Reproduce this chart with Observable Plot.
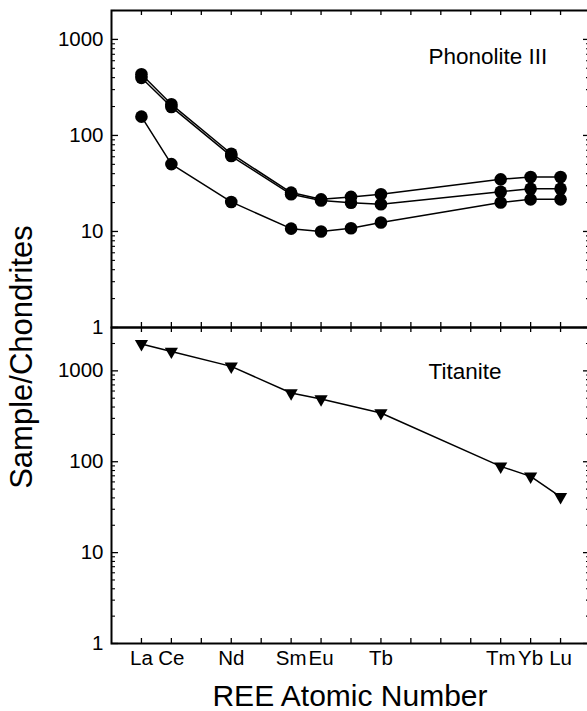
<!DOCTYPE html>
<html><head><meta charset="utf-8">
<script src="https://cdn.jsdelivr.net/npm/d3@7"></script>
<script src="https://cdn.jsdelivr.net/npm/@observablehq/plot@0.6"></script>
<style>
html,body{margin:0;padding:0;background:#fff;overflow:hidden;}
#wrap{position:relative;width:587px;height:711px;font-family:"Liberation Sans",Arial,sans-serif;color:#000;}
#wrap svg{position:absolute;left:0;top:0;}
#ytitle{position:absolute;left:21px;top:357px;transform:translate(-50%,-50%) rotate(-90deg);font-size:31px;line-height:31px;white-space:nowrap;}
#xtitle{position:absolute;left:350px;top:681px;transform:translateX(-50%);font-size:30px;line-height:30px;white-space:nowrap;}
</style>
</head><body>
<div id="wrap">
  <div id="ytitle">Sample/Chondrites</div>
  <div id="xtitle">REE Atomic Number</div>
</div>
<script>
// REE atomic numbers with data (top panel)
const phonElements = [57, 58, 60, 62, 63, 64, 65, 69, 70, 71];
const phonoliteA = [433, 211, 64.5, 25.4, 21.6, 22.9, 24.4, 34.9, 36.9, 36.9];
const phonoliteB = [398, 198, 61, 24.4, 21.0, 19.9, 19.2, 25.9, 27.9, 27.9];
const phonoliteC = [157, 50.3, 20.3, 10.7, 10.0, 10.8, 12.4, 20.0, 21.6, 21.6];
// Titanite (bottom panel)
const titElements = [57, 58, 60, 62, 63, 65, 69, 70, 71];
const titanite = [1980, 1633, 1121, 570, 490, 344, 89, 69, 41];
// axes
const xTicks = [57, 58, 59, 60, 61, 62, 63, 64, 65, 66, 67, 68, 69, 70, 71];
const xLabelTicks = [57, 58, 60, 62, 63, 65, 69, 70, 71];
const xLabelNames = ["La", "Ce", "Nd", "Sm", "Eu", "Tb", "Tm", "Yb", "Lu"];
const yMajor = [1, 10, 100, 1000];
const yMinorTop = [2,3,4,5,6,7,8,9,20,30,40,50,60,70,80,90,200,300,400,500,600,700,800,900,2000];
const yMinorBottom = [2,3,4,5,6,7,8,9,20,30,40,50,60,70,80,90,200,300,400,500,600,700,800,900,2000];
const topDomain = [1, 2000];
const bottomDomain = [1, 3000];

const W = 587, H = 711, ML = 111, MR = -3;
const frameW = W - ML - MR;
const labelMap = new Map(xLabelTicks.map((d, i) => [d, xLabelNames[i]]));

function panel({top, bottom, domain, minors, data, z, dotOpts, label, labelDy, showX}) {
  const panelH = H - top - bottom;
  const marks = [
    Plot.tickX(xTicks, {x: d => d, insetBottom: panelH - 5, strokeWidth: 1.3}),
    Plot.tickX(xTicks, {x: d => d, insetTop: panelH - 5, strokeWidth: 1.3}),
    Plot.tickY(yMajor, {y: d => d, insetRight: frameW - 7, strokeWidth: 1.3}),
    Plot.tickY(yMajor, {y: d => d, insetLeft: frameW - 7, strokeWidth: 1.3}),
    Plot.tickY(minors, {y: d => d, insetRight: frameW - 4, strokeWidth: 1.1}),
    Plot.tickY(minors, {y: d => d, insetLeft: frameW - 4, strokeWidth: 1.1}),
    Plot.axisY({ticks: yMajor, tickSize: 0, tickPadding: 8, tickFormat: d3.format("d"), fontSize: 20.5, label: null}),
    Plot.line(data, {x: "x", y: "y", z: z, stroke: "black", strokeWidth: 1.5}),
    Plot.dot(data, {x: "x", y: "y", fill: "black", stroke: "none", ...dotOpts}),
    Plot.text([label], {frameAnchor: "top-left", dx: 428 - ML, dy: labelDy, textAnchor: "start", lineAnchor: "middle", fontSize: 22.5, fill: "black"}),
    Plot.frame({stroke: "black", strokeWidth: 2})
  ];
  if (showX) {
    marks.push(Plot.axisX({ticks: xLabelTicks, tickSize: 0, tickPadding: 7, tickFormat: d => labelMap.get(d), fontSize: 20.5, label: null}));
  }
  return Plot.plot({
    width: W, height: H,
    marginLeft: ML, marginRight: MR, marginTop: top, marginBottom: bottom,
    x: {domain: [56, 72], axis: showX ? undefined : null},
    y: {type: "log", domain: domain},
    style: {background: "transparent", fontFamily: "Liberation Sans, Arial, sans-serif", fontSize: "20px", color: "black", overflow: "hidden"},
    marks
  });
}

const topData = [];
phonElements.forEach((e, i) => {
  topData.push({x: e, y: phonoliteA[i], s: "A"});
});
phonElements.forEach((e, i) => {
  topData.push({x: e, y: phonoliteB[i], s: "B"});
});
phonElements.forEach((e, i) => {
  topData.push({x: e, y: phonoliteC[i], s: "C"});
});
const bottomData = titElements.map((e, i) => ({x: e, y: titanite[i], s: "T"}));

const wrap = document.getElementById("wrap");
wrap.appendChild(panel({
  top: 10, bottom: H - 327, domain: topDomain, minors: yMinorTop, data: topData, z: "s",
  dotOpts: {r: 6.3, symbol: "circle"}, label: "Phonolite III", labelDy: 46, showX: false
}));
wrap.appendChild(panel({
  top: 327, bottom: H - 643, domain: bottomDomain, minors: yMinorBottom, data: bottomData, z: "s",
  dotOpts: {r: 4.9, symbol: "triangle", rotate: 180}, label: "Titanite", labelDy: 44.5, showX: true
}));
</script>
</body></html>
